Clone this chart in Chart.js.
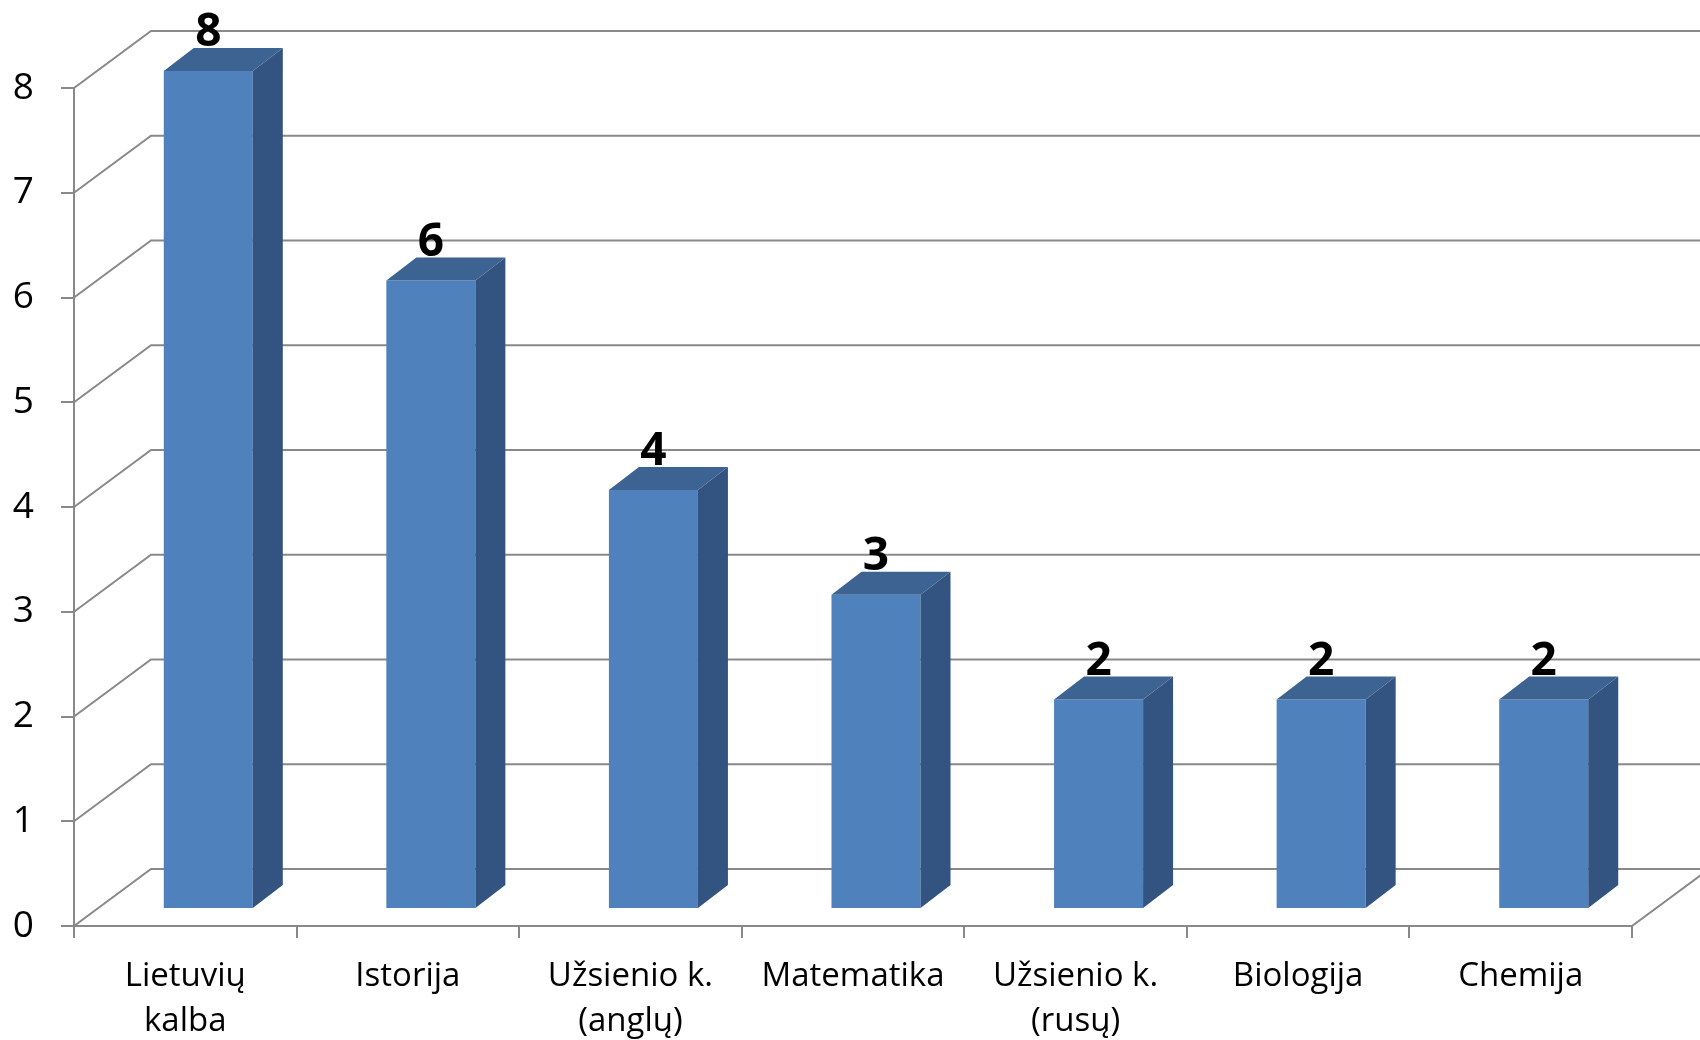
<!DOCTYPE html>
<html>
<head>
<meta charset="utf-8">
<script src="https://cdn.jsdelivr.net/npm/chart.js@4.4.1/dist/chart.umd.min.js"></script>
<style>
  html, body { margin: 0; padding: 0; background: #fff; }
  #wrap { width: 1700px; height: 1040px; }
</style>
</head>
<body>
<div id="wrap"><canvas id="myChart"></canvas></div>
<script>
// data
const categories = [['Lietuvių', 'kalba'], 'Istorija', ['Užsienio k.', '(anglų)'], 'Matematika', ['Užsienio k.', '(rusų)'], 'Biologija', 'Chemija'];
const values = [8, 6, 4, 3, 2, 2, 2];
const yMin = 0;
const yMax = 8;
const yStep = 1;

const gridColor = '#898989';
const frontColor = '#4f81bd';
const topColor = '#3d6392';
const sideColor = '#335481';

// fake 3d: wall depth, bar plane shift, bar depth
const WALL = { dx: 77, dy: -57 };
const SHIFT = { dx: 23, dy: -17 };
const DEPTH = { dx: 30, dy: -23 };

const walls3d = {
  id: 'walls3d',
  beforeDatasetsDraw(chart) {
    const { ctx, chartArea: a } = chart;
    const y = chart.scales.y;
    ctx.save();
    ctx.strokeStyle = gridColor;
    ctx.lineWidth = 2;
    ctx.beginPath();
    y.ticks.forEach(t => {
      const py = y.getPixelForValue(t.value);
      ctx.moveTo(a.left, py);
      ctx.lineTo(a.left + WALL.dx, py + WALL.dy);
      ctx.lineTo(a.right + WALL.dx, py + WALL.dy);
    });
    const p0 = y.getPixelForValue(yMin);
    ctx.moveTo(a.right, p0);
    ctx.lineTo(a.right + WALL.dx, p0 + WALL.dy);
    ctx.stroke();
    ctx.restore();
    // bars sit a bit behind the front plane
    ctx.save();
    ctx.translate(SHIFT.dx, SHIFT.dy);
  },
  afterDatasetsDraw(chart) {
    const ctx = chart.ctx;
    const bars = chart.getDatasetMeta(0).data;
    bars.forEach(bar => {
      const { x, y, base, width } = bar.getProps(['x', 'y', 'base', 'width'], true);
      const l = x - width / 2, r = x + width / 2;
      ctx.fillStyle = sideColor;
      ctx.beginPath();
      ctx.moveTo(r, y);
      ctx.lineTo(r + DEPTH.dx, y + DEPTH.dy);
      ctx.lineTo(r + DEPTH.dx, base + DEPTH.dy);
      ctx.lineTo(r, base);
      ctx.closePath();
      ctx.fill();
      ctx.fillStyle = topColor;
      ctx.beginPath();
      ctx.moveTo(l, y);
      ctx.lineTo(l + DEPTH.dx, y + DEPTH.dy);
      ctx.lineTo(r + DEPTH.dx, y + DEPTH.dy);
      ctx.lineTo(r, y);
      ctx.closePath();
      ctx.fill();
    });
    // value labels
    ctx.fillStyle = '#000';
    ctx.font = 'bold 46px "Open Sans"';
    ctx.textAlign = 'center';
    ctx.textBaseline = 'alphabetic';
    bars.forEach((bar, i) => {
      const { x, y } = bar.getProps(['x', 'y'], true);
      ctx.fillText(values[i], x, y + DEPTH.dy - 2);
    });
    ctx.restore();
  }
};

const ctx1 = document.getElementById('myChart');
new Chart(ctx1, {
  type: 'bar',
  data: {
    labels: categories,
    datasets: [
      {
        data: values,
        backgroundColor: frontColor,
        borderWidth: 0,
        barPercentage: 0.4,
        categoryPercentage: 1,
        clip: false,
      },
    ],
  },
  options: {
    responsive: true,
    maintainAspectRatio: false,
    animation: false,
    layout: { padding: { top: 88, right: 68, left: 0, bottom: 0 } },
    plugins: {
      legend: { display: false },
      tooltip: { enabled: false },
    },
    scales: {
      x: {
        grid: { offset: true, drawOnChartArea: false, tickLength: 12, color: gridColor, lineWidth: 2 },
        border: { color: gridColor, width: 2 },
        ticks: {
          color: '#000',
          font: { family: 'Open Sans', size: 33, lineHeight: 1.36 },
          padding: 16,
          maxRotation: 0,
          autoSkip: false,
        },
        afterFit(scale) { scale.height = 114; },
      },
      y: {
        min: yMin,
        max: yMax,
        grid: { drawOnChartArea: false, tickLength: 13, color: gridColor, lineWidth: 2 },
        border: { color: gridColor, width: 2 },
        ticks: {
          stepSize: yStep,
          color: '#000',
          font: { family: 'Open Sans', size: 37 },
          padding: 27,
        },
        afterFit(scale) { scale.width = 74; },
      },
    },
  },
  plugins: [walls3d],
});
</script>
</body>
</html>
